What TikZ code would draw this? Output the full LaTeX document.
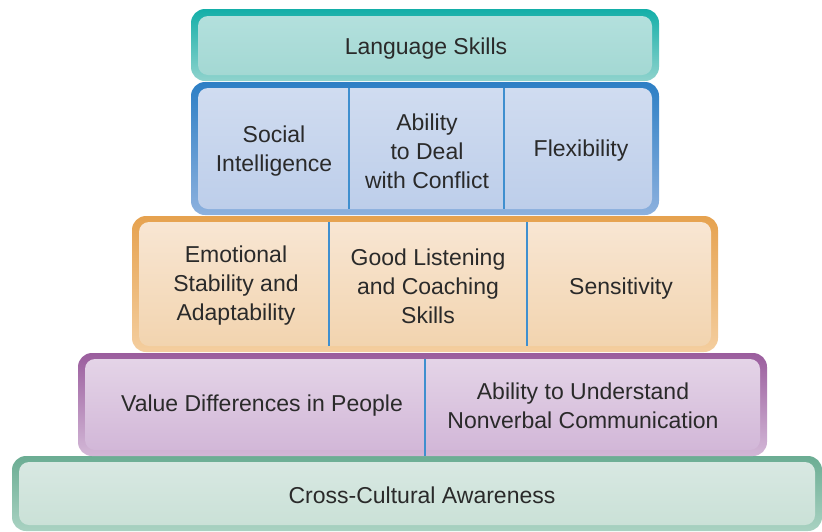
\documentclass[tikz,border=0pt]{standalone}
\usepackage{fontspec}
\setmainfont{Liberation Sans}
\usetikzlibrary{positioning}

\definecolor{ink}{HTML}{2A2A2A}
\definecolor{rule}{HTML}{3F8FCF}
\definecolor{tealTop}{HTML}{13AFA8}
\definecolor{tealBot}{HTML}{8FD3CD}
\definecolor{tealIn}{HTML}{B3E0DD}
\definecolor{tealInB}{HTML}{A3D8D3}
\definecolor{blueTop}{HTML}{2D7FC5}
\definecolor{blueBot}{HTML}{8DB1DE}
\definecolor{blueIn}{HTML}{D0DCF0}
\definecolor{blueInB}{HTML}{BDCEEA}
\definecolor{orngTop}{HTML}{E6A24F}
\definecolor{orngBot}{HTML}{F4CE9F}
\definecolor{orngIn}{HTML}{F8E6D3}
\definecolor{orngInB}{HTML}{F2D4AF}
\definecolor{purpTop}{HTML}{9A5D9D}
\definecolor{purpBot}{HTML}{D3B8D7}
\definecolor{purpIn}{HTML}{E4D4E7}
\definecolor{purpInB}{HTML}{D2B7D8}
\definecolor{grnTop}{HTML}{6BAD93}
\definecolor{grnBot}{HTML}{A9D2C2}
\definecolor{grnIn}{HTML}{D8E8E2}
\definecolor{grnInB}{HTML}{CAE1D7}

\tikzset{
  tier/.style={rounded corners=14pt, inner sep=0pt, outer sep=0pt},
  face/.style={rounded corners=10pt, inner sep=0pt, outer sep=0pt},
  skill/.style={align=center, text=ink, font=\fontsize{23}{29}\selectfont},
  divider/.style={draw=rule, line width=1.2pt},
}

\begin{document}
\begin{tikzpicture}[x=1pt,y=-1pt]
\useasboundingbox (0,0) rectangle (822,531);

% tier backgrounds, bottom to top
\node[tier, minimum width=810, minimum height=75, top color=grnTop, bottom color=grnBot] (aware) at (417,493.5) {};
\node[face, minimum width=796, minimum height=63, top color=grnIn, middle color=grnIn, bottom color=grnInB] (awareIn) at (417,493.5) {};

\node[tier, minimum width=689, minimum height=103, top color=purpTop, bottom color=purpBot] (value) at (422.5,404.5) {};
\node[face, minimum width=675, minimum height=91, top color=purpIn, middle color=purpIn, bottom color=purpInB] (valueIn) at (422.5,404.5) {};

\node[tier, minimum width=586, minimum height=136, top color=orngTop, bottom color=orngBot] (emo) at (425,284) {};
\node[face, minimum width=572, minimum height=124, top color=orngIn, middle color=orngIn, bottom color=orngInB] (emoIn) at (425,284) {};

\node[tier, minimum width=468, minimum height=133, top color=blueTop, bottom color=blueBot] (social) at (425,148.5) {};
\node[face, minimum width=454, minimum height=121, top color=blueIn, middle color=blueIn, bottom color=blueInB] (socialIn) at (425,148.5) {};

\node[tier, minimum width=468, minimum height=72, top color=tealTop, bottom color=tealBot] (lang) at (425,45) {};
\node[face, minimum width=454, minimum height=59, top color=tealIn, middle color=tealIn, bottom color=tealInB] (langIn) at (425,45.5) {};

% dividers
\draw[divider] (socialIn.north -| 349,0) -- (socialIn.south -| 349,0);
\draw[divider] (socialIn.north -| 504,0) -- (socialIn.south -| 504,0);
\draw[divider] (emoIn.north -| 329,0) -- (emoIn.south -| 329,0);
\draw[divider] (emoIn.north -| 527,0) -- (emoIn.south -| 527,0);
\draw[divider] (valueIn.north -| 425,0) -- (value.south -| 425,0);

% texts
\node[skill] (t-lang) at (426,48.5) {Language Skills};
\node[skill] (t-social) at (274,151) {Social\\Intelligence};
\node[skill] (t-conflict) at (427,151) {Ability\\to Deal\\with Conflict};
\node[skill] (t-flex) at (581,150.5) {Flexibility};
\node[skill] (t-emo) at (236,286) {Emotional\\Stability and\\Adaptability};
\node[skill] (t-listen) at (428,286) {Good Listening\\and Coaching\\Skills};
\node[skill] (t-sens) at (621,288.5) {Sensitivity};
\node[skill] (t-value) at (262,405.5) {Value Differences in People};
\node[skill] (t-nonverbal) at (583,406) {Ability to Understand\\Nonverbal Communication};
\node[skill] (t-aware) at (422,495.5) {Cross-Cultural Awareness};
\end{tikzpicture}
\end{document}
